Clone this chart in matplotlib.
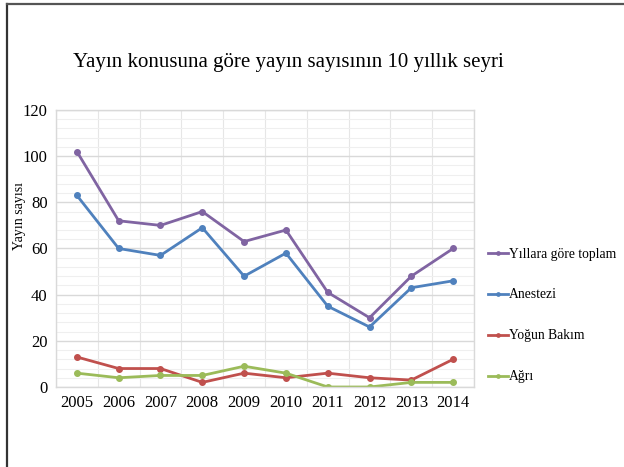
import matplotlib.pyplot as plt
from matplotlib.lines import Line2D
from matplotlib.ticker import MultipleLocator

plt.rcParams['font.family'] = ['Liberation Serif', 'DejaVu Serif']

# veriler
years = ['2005', '2006', '2007', '2008', '2009', '2010', '2011', '2012', '2013', '2014']
toplam = [102, 72, 70, 76, 63, 68, 41, 30, 48, 60]
anestezi = [83, 60, 57, 69, 48, 58, 35, 26, 43, 46]
yogun_bakim = [13, 8, 8, 2, 6, 4, 6, 4, 3, 12]
agri = [6, 4, 5, 5, 9, 6, 0, 0, 2, 2]

series_names = ['Yıllara göre toplam', 'Anestezi', 'Yoğun Bakım', 'Ağrı']
series_colors = ['#8064A2', '#4F81BD', '#C0504D', '#9BBB59']

fig = plt.figure(figsize=(6.24, 4.67), dpi=100)
ax = fig.add_axes([0.0897, 0.1713, 0.67, 0.5932])

x = range(len(years))
for vals, name, col in zip([toplam, anestezi, yogun_bakim, agri], series_names, series_colors):
    ax.plot(x, vals, color=col, linewidth=2, marker='o', markersize=4, label=name)

ax.set_xlim(-0.5, len(years) - 0.5)
ax.set_ylim(0, 120)
ax.set_xticks(list(x))
ax.set_xticklabels(years, fontsize=12)
ax.yaxis.set_major_locator(MultipleLocator(20))
ax.yaxis.set_minor_locator(MultipleLocator(4))
ax.set_xticks([i + 0.5 for i in range(-1, len(years))], minor=True)
ax.tick_params(axis='y', labelsize=12, length=0, pad=6)
ax.tick_params(axis='x', length=0, pad=6)
ax.tick_params(which='minor', length=0)

ax.grid(axis='y', which='major', color='#d9d9d9', linewidth=1)
ax.grid(axis='y', which='minor', color='#efefef', linewidth=0.8)
ax.grid(axis='x', which='minor', color='#e6e6e6', linewidth=0.8)
ax.set_axisbelow(True)
for s in ax.spines.values():
    s.set_color('#d9d9d9')
    s.set_linewidth(1)

# eksen başlığı ve grafik başlığı
fig.text(0.031, 0.537, 'Yayın sayısı', fontsize=10, rotation=90, ha='center', va='center')
fig.text(0.462, 0.866, 'Yayın konusuna göre yayın sayısının 10 yıllık seyri',
         fontsize=15, ha='center', va='center')

fig.legend(loc='center left', bbox_to_anchor=(0.771, 0.3246), frameon=False,
           fontsize=9.8, handlelength=1.5, handletextpad=0.05,
           labelspacing=2.05, borderpad=0, markerscale=0.6)

# çerçeve (sol ve üst kenar)
fig.add_artist(Line2D([0.0112, 0.0112], [0.0, 0.991], color='#333333', linewidth=1.6, transform=fig.transFigure))
fig.add_artist(Line2D([0.0112, 1.0], [0.991, 0.991], color='#555555', linewidth=1.6, transform=fig.transFigure))

plt.savefig('out.png', dpi=100)
